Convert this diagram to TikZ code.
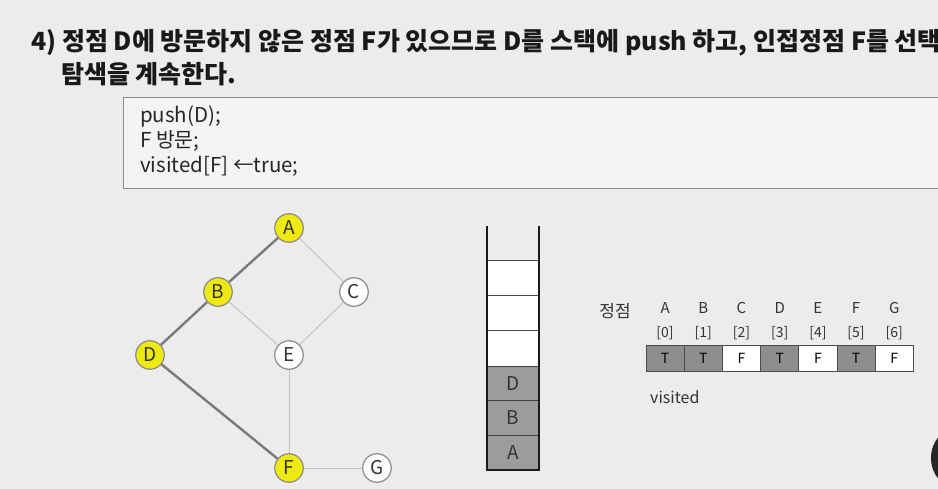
\documentclass[tikz,border=0pt]{standalone}
\usepackage{fontspec}
\setmainfont{Noto Sans CJK KR}
\definecolor{bg}{HTML}{ECECEC}
\definecolor{vyel}{HTML}{EEEA10}
\definecolor{cellgray}{HTML}{9C9C9C}
\definecolor{tgray}{HTML}{8E8E8E}
\definecolor{thick}{HTML}{7A7A7A}
\definecolor{thin}{HTML}{C4C4C4}
\definecolor{nodeborder}{HTML}{8A8A8A}
\tikzset{
  vnode/.style={circle, draw=nodeborder, line width=1.2pt, minimum size=28.5pt, inner sep=0pt, font=\fontsize{19}{19}\selectfont, text=black!80},
  visitednode/.style={vnode, fill=vyel},
  freenode/.style={vnode, fill=white!95!bg},
  treeedge/.style={draw=thick, line width=2.4pt},
  plainedge/.style={draw=thin, line width=1pt},
  stackcell/.style={draw=black!75, line width=1pt, minimum width=52pt, minimum height=34.5pt, inner sep=0pt, font=\fontsize{19}{19}\selectfont, text=black!80},
  vcell/.style={draw=black!70, line width=1pt, minimum width=38.2pt, minimum height=25.5pt, inner sep=0pt, font=\fontsize{14}{14}\selectfont},
  lbl/.style={font=\fontsize{15}{15}\selectfont, text=black!80, inner sep=0pt},
}
\begin{document}
\begin{tikzpicture}[x=1pt,y=-1pt]
\fill[bg] (0,0) rectangle (938,489);
\useasboundingbox (0,0) rectangle (938,489);

% title
\node[anchor=base west, inner sep=0pt, font=\fontsize{25}{25}\selectfont\bfseries, text=black!90] (t1) at (31,51)
  {4) 정점 D에 방문하지 않은 정점 F가 있으므로 D를 스택에 push 하고, 인접정점 F를 선택};
\node[anchor=base west, inner sep=0pt, font=\fontsize{25}{25}\selectfont\bfseries, text=black!90] (t2) at (61,84)
  {탐색을 계속한다.};

% code box
\draw[draw=black!45, line width=0.8pt, fill=bg!60!white] (123,97) rectangle (950,188);
\node[anchor=north west, align=left, inner sep=0pt, font=\fontsize{20.5}{25}\selectfont, text=black!85] (code) at (140,106)
  {push(D);\\F 방문;\\visited[F] ←true;};

% graph
\node[visitednode] (A) at (289,228) {A};
\node[visitednode] (B) at (218,292) {B};
\node[freenode] (C) at (354,292) {C};
\node[visitednode] (D) at (150,355) {D};
\node[freenode] (E) at (289,355) {E};
\node[visitednode] (F) at (289,468) {F};
\node[freenode] (G) at (377,468) {G};
\path[plainedge] (A) -- (C);
\path[plainedge] (B) -- (E);
\path[plainedge] (C) -- (E);
\path[plainedge] (E) -- (F);
\path[plainedge] (F) -- (G);
\path[treeedge] (A) -- (B);
\path[treeedge] (B) -- (D);
\path[treeedge] (D) -- (F);

% stack
\fill[white] (487,261) rectangle (539,366);
\node[stackcell, fill=cellgray] (sA) at (513,452.5) {A};
\node[stackcell, fill=cellgray] (sB) at (513,418) {B};
\node[stackcell, fill=cellgray] (sD) at (513,383.5) {D};
\coordinate (s1l) at (487,261); \coordinate (s1r) at (539,261);
\coordinate (s2l) at (487,296); \coordinate (s2r) at (539,296);
\coordinate (s3l) at (487,331); \coordinate (s3r) at (539,331);
\draw[black!70, line width=1pt] (s1l) -- (s1r) (s2l) -- (s2r) (s3l) -- (s3r);
\coordinate (wlt) at (487,226); \coordinate (wrt) at (539,226);
\coordinate (wlb) at (487,470); \coordinate (wrb) at (539,470);
\draw[black!90, line width=2.4pt, line join=miter] (wlt) -- (wlb) -- (wrb) -- (wrt);

% visited table
\node[lbl, font=\fontsize{17}{17}\selectfont] (vt) at (615,311) {정점};
\foreach \l/\i [count=\k from 0] in {A/0,B/1,C/2,D/3,E/4,F/5,G/6}{
  \node[lbl] (h\k) at ({665.1+38.2*\k},308) {\l};
  \node[lbl, font=\fontsize{14}{14}\selectfont] (i\k) at ({665.1+38.2*\k},333) {[\i]};
}
\foreach \v/\c [count=\k from 0] in {T/tgray,T/tgray,F/white,T/tgray,F/white,T/tgray,F/white}{
  \node[vcell, fill=\c] (c\k) at ({665.1+38.2*\k},358.5) {\v};
}
\node[lbl, font=\fontsize{16}{16}\selectfont, anchor=west] (vis) at (650,397) {visited};

% dark blob at the right edge
\fill[black!85] (957,458) ellipse [x radius=26, y radius=30];
\end{tikzpicture}
\end{document}
